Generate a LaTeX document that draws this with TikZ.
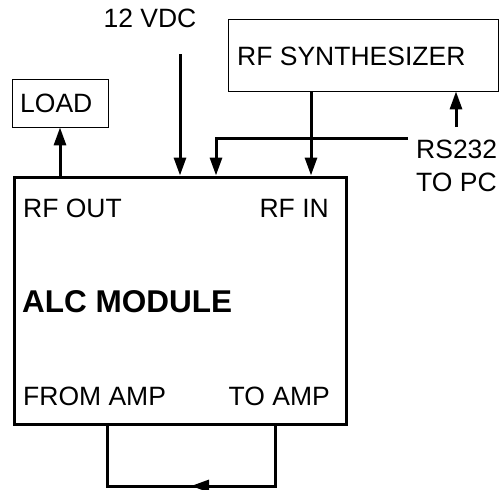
\documentclass[tikz,border=0pt]{standalone}
\usepackage{fontspec}
\setmainfont{Liberation Sans}
\usetikzlibrary{arrows.meta,positioning}

\begin{document}
\begin{tikzpicture}[x=1pt,y=-1pt,
  blk/.style={draw,line width=0.8pt,inner sep=0pt},
  lbl/.style={font=\fontsize{26.5}{33}\selectfont,inner sep=0pt},
  wire/.style={line width=3pt},
  arr/.style={wire,-{Triangle[length=18pt,width=12pt]}}]
  \useasboundingbox (0,0) rectangle (499,490);
  % blocks
  \node[draw,line width=3pt,minimum width=332pt,minimum height=247pt,
    inner sep=0pt] (alc) at (180.5,300.5) {};
  \node[blk,minimum width=96pt,minimum height=48pt] (load) at (60,103) {};
  \node[blk,minimum width=270pt,minimum height=72pt] (synth) at (363,55) {};
  % texts
  \node[lbl,anchor=west] at (20,103) {LOAD};
  \node[lbl,anchor=west] at (237,56) {RF SYNTHESIZER};
  \node[lbl] (vdc) at (150,18) {12 VDC};
  \node[lbl,anchor=west,align=left] (rs) at (416,166) {RS232\\TO PC};
  \node[lbl,anchor=west] at (23,208) {RF OUT};
  \node[lbl,anchor=east] at (329,208) {RF IN};
  \node[lbl,anchor=west,font=\fontsize{31.5}{36}\selectfont\bfseries]
    at (22,302) {ALC MODULE};
  \node[lbl,anchor=west] (from) at (23,396) {FROM AMP};
  \node[lbl,anchor=east] (to) at (330,396) {TO AMP};
  % connectors
  \coordinate (vdcend) at (180,54);
  \coordinate (rsend) at (408,138);
  \coordinate (rspc) at (456,127);
  \draw[arr] (alc.north -| load) -- (load.south);
  \draw[arr] (vdcend) -- (vdcend |- alc.north);
  \draw[arr] (rsend) -| (216,175.5);
  \draw[arr] (synth.south -| 311,0) -- (311,175.5);
  \draw[arr] (rspc) -- (rspc |- synth.south);
  \draw[wire] (275,426) -- (275,486) -- (107,486) -- (107,426);
  \draw[arr] (275,486) -- (191,486);
\end{tikzpicture}
\end{document}
